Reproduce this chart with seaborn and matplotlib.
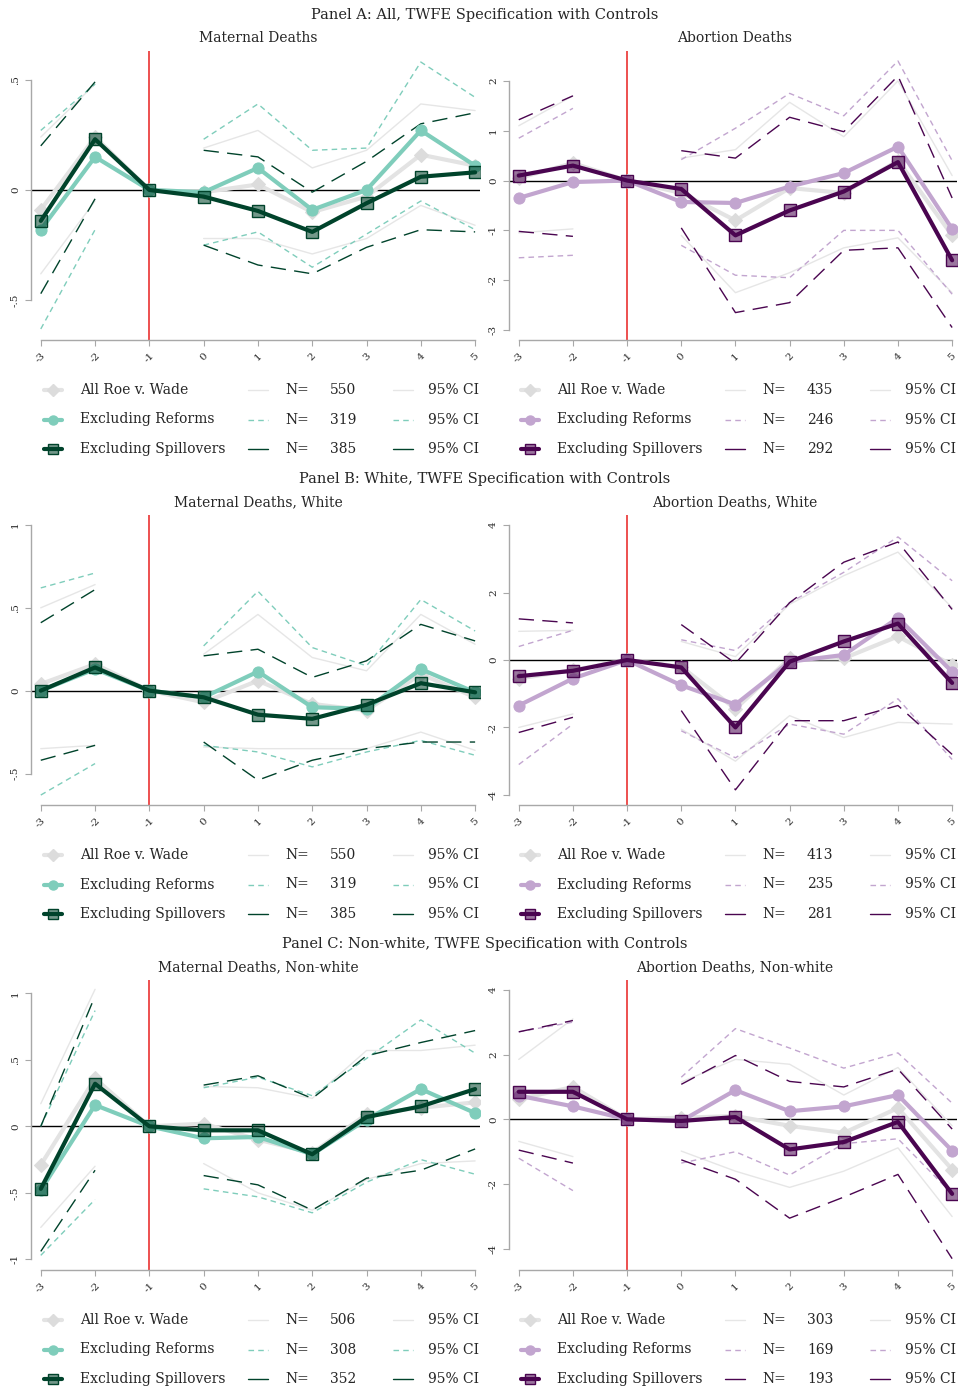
import numpy as np
import pandas as pd
import seaborn as sns
import matplotlib
matplotlib.use("Agg")
from matplotlib import pyplot as plt

sns.set_style("white")
plt.rcParams['font.family'] = ['DejaVu Serif']

# event time
years = [-3, -2, -1, 0, 1, 2, 3, 4, 5]
nan = np.nan

# ---- Panel A, maternal deaths ----
a_mat_all = [-0.09, 0.24, 0, -0.01, 0.025, -0.10, -0.03, 0.16, 0.11]
a_mat_all_hi = [0.24, 0.48, nan, 0.19, 0.27, 0.10, 0.18, 0.39, 0.36]
a_mat_all_lo = [-0.38, -0.05, nan, -0.22, -0.22, -0.29, -0.22, -0.07, -0.16]
a_mat_ref = [-0.18, 0.15, 0, -0.01, 0.10, -0.09, 0.0, 0.27, 0.11]
a_mat_ref_hi = [0.27, 0.48, nan, 0.23, 0.39, 0.18, 0.19, 0.58, 0.42]
a_mat_ref_lo = [-0.63, -0.18, nan, -0.25, -0.19, -0.35, -0.20, -0.05, -0.18]
a_mat_spl = [-0.14, 0.23, 0, -0.03, -0.095, -0.19, -0.06, 0.06, 0.08]
a_mat_spl_hi = [0.20, 0.49, nan, 0.18, 0.15, -0.01, 0.13, 0.30, 0.35]
a_mat_spl_lo = [-0.47, -0.04, nan, -0.25, -0.34, -0.38, -0.26, -0.18, -0.19]

# ---- Panel A, abortion deaths ----
a_abo_all = [0.05, 0.35, 0, -0.25, -0.8, -0.15, -0.25, 0.4, -1.1]
a_abo_all_hi = [1.1, 1.7, nan, 0.45, 0.62, 1.57, 0.88, 2.0, 0.1]
a_abo_all_lo = [-1.05, -0.97, nan, -1.1, -2.25, -1.85, -1.35, -1.15, -2.25]
a_abo_ref = [-0.35, -0.03, 0, -0.43, -0.45, -0.12, 0.15, 0.68, -0.97]
a_abo_ref_hi = [0.85, 1.45, nan, 0.42, 1.05, 1.75, 1.3, 2.4, 0.4]
a_abo_ref_lo = [-1.55, -1.5, nan, -1.3, -1.9, -1.95, -1.0, -1.0, -2.28]
a_abo_spl = [0.1, 0.3, 0, -0.17, -1.1, -0.6, -0.22, 0.37, -1.6]
a_abo_spl_hi = [1.22, 1.7, nan, 0.6, 0.45, 1.27, 0.98, 2.1, -0.35]
a_abo_spl_lo = [-1.02, -1.12, nan, -0.95, -2.65, -2.45, -1.4, -1.35, -2.95]

# ---- Panel B, maternal deaths, white ----
b_mat_all = [0.04, 0.16, 0, -0.07, 0.06, -0.08, -0.12, 0.10, -0.04]
b_mat_all_hi = [0.50, 0.64, nan, 0.22, 0.46, 0.20, 0.12, 0.46, 0.28]
b_mat_all_lo = [-0.35, -0.33, nan, -0.34, -0.35, -0.35, -0.35, -0.25, -0.36]
b_mat_ref = [0.0, 0.13, 0, -0.04, 0.115, -0.10, -0.11, 0.13, -0.01]
b_mat_ref_hi = [0.62, 0.71, nan, 0.27, 0.60, 0.26, 0.15, 0.55, 0.36]
b_mat_ref_lo = [-0.63, -0.44, nan, -0.33, -0.37, -0.46, -0.37, -0.30, -0.39]
b_mat_spl = [0.0, 0.14, 0, -0.04, -0.145, -0.17, -0.085, 0.045, -0.01]
b_mat_spl_hi = [0.41, 0.61, nan, 0.21, 0.25, 0.08, 0.18, 0.40, 0.30]
b_mat_spl_lo = [-0.42, -0.33, nan, -0.31, -0.54, -0.42, -0.35, -0.31, -0.31]

# ---- Panel B, abortion deaths, white ----
b_abo_all = [-0.55, -0.3, 0, -0.2, -1.45, 0.05, 0.05, 0.7, -0.15]
b_abo_all_hi = [0.85, 0.88, nan, 0.55, 0.1, 1.65, 2.5, 3.2, 1.55]
b_abo_all_lo = [-2.0, -1.6, nan, -2.05, -3.0, -1.65, -2.3, -1.85, -1.9]
b_abo_ref = [-1.35, -0.55, 0, -0.75, -1.32, -0.05, 0.15, 1.25, -0.35]
b_abo_ref_hi = [0.4, 0.88, nan, 0.6, 0.28, 1.7, 2.6, 3.65, 2.35]
b_abo_ref_lo = [-3.1, -1.9, nan, -2.1, -2.9, -1.9, -2.2, -1.15, -2.95]
b_abo_spl = [-0.48, -0.32, 0, -0.22, -2.0, -0.05, 0.55, 1.08, -0.68]
b_abo_spl_hi = [1.22, 1.1, nan, 1.05, -0.1, 1.7, 2.9, 3.5, 1.5]
b_abo_spl_lo = [-2.15, -1.7, nan, -1.5, -3.85, -1.8, -1.8, -1.35, -2.8]

# ---- Panel C, maternal deaths, non-white ----
c_mat_all = [-0.29, 0.36, 0, 0.02, -0.10, -0.20, 0.09, 0.14, 0.18]
c_mat_all_hi = [0.17, 1.03, nan, 0.30, 0.29, 0.21, 0.57, 0.57, 0.61]
c_mat_all_lo = [-0.76, -0.30, nan, -0.28, -0.50, -0.63, -0.40, -0.28, -0.26]
c_mat_ref = [-0.48, 0.16, 0, -0.09, -0.08, -0.21, 0.05, 0.28, 0.10]
c_mat_ref_hi = [0.0, 0.87, nan, 0.29, 0.37, 0.23, 0.51, 0.80, 0.55]
c_mat_ref_lo = [-0.97, -0.55, nan, -0.47, -0.53, -0.65, -0.42, -0.25, -0.36]
c_mat_spl = [-0.47, 0.32, 0, -0.03, -0.03, -0.21, 0.07, 0.15, 0.28]
c_mat_spl_hi = [0.0, 0.98, nan, 0.31, 0.38, 0.21, 0.53, 0.63, 0.72]
c_mat_spl_lo = [-0.94, -0.33, nan, -0.37, -0.44, -0.63, -0.39, -0.33, -0.17]

# ---- Panel C, abortion deaths, non-white ----
c_abo_all = [0.62, 1.0, 0, 0.05, 0.1, -0.2, -0.42, 0.35, -1.55]
c_abo_all_hi = [1.85, 3.1, nan, 1.15, 1.85, 1.7, 0.75, 1.6, -0.2]
c_abo_all_lo = [-0.68, -1.15, nan, -0.98, -1.6, -2.1, -1.6, -0.88, -3.0]
c_abo_ref = [0.73, 0.4, 0, -0.05, 0.9, 0.25, 0.4, 0.75, -0.97]
c_abo_ref_hi = [2.7, 3.0, nan, 1.3, 2.8, 2.2, 1.58, 2.05, 0.5]
c_abo_ref_lo = [-1.2, -2.2, nan, -1.35, -1.0, -1.72, -0.75, -0.6, -2.3]
c_abo_spl = [0.85, 0.85, 0, -0.05, 0.07, -0.93, -0.7, -0.08, -2.3]
c_abo_spl_hi = [2.7, 3.05, nan, 1.08, 1.97, 1.17, 1.0, 1.55, -0.3]
c_abo_spl_lo = [-0.95, -1.35, nan, -1.25, -1.85, -3.05, -2.4, -1.7, -4.3]

series_labels = ["All Roe v. Wade", "Excluding Reforms", "Excluding Spillovers"]
n_obs = {"A_mat": [550, 319, 385], "A_abo": [435, 246, 292],
         "B_mat": [550, 319, 385], "B_abo": [413, 235, 281],
         "C_mat": [506, 308, 352], "C_abo": [303, 169, 193]}

GRAY = "#d9d9d9"
CIGRAY = "#e6e6e6"
green = ["#7fcdbb", "#00432b"]
purple = ["#c2a5cf", "#4a0550"]
SHORT = (0, (4, 3))
LONG = (0, (11, 6))

W, H = 961, 1390
fig = plt.figure(figsize=(W / 100, H / 100), dpi=100)


def px_axes(x0, y0, x1, y1):
    return fig.add_axes([x0 / W, 1 - y1 / H, (x1 - x0) / W, (y1 - y0) / H])


def draw(ax, data, cols, ylim, yticks, ylabels):
    all_, ref, spl = data
    styles = [(CIGRAY, "-"), (cols[0], SHORT), (cols[1], LONG)]
    for (est, hi, lo), (c, ls) in zip([all_, ref, spl], styles):
        for ci in (hi, lo):
            for idx in ([0, 1], [3, 4, 5, 6, 7, 8]):
                sns.lineplot(x=[years[i] for i in idx], y=[ci[i] for i in idx],
                             ax=ax, color=c, linestyle=ls, lw=1.0, legend=False)
    ax.axhline(0, color="black", lw=1.0, zorder=1)
    ax.axvline(-1, color="#e8201f", lw=1.1, zorder=1)
    sns.lineplot(x=years, y=all_[0], ax=ax, color="#e3e3e3", lw=3, marker="D",
                 markersize=7, markerfacecolor="#dcdcdc", markeredgecolor="#dcdcdc",
                 zorder=3, legend=False)
    sns.lineplot(x=years, y=ref[0], ax=ax, color=cols[0], lw=3, marker="o",
                 markersize=8, markeredgecolor=cols[0], zorder=4, legend=False)
    sns.lineplot(x=years, y=spl[0], ax=ax, color=cols[1], lw=3, marker="s",
                 markersize=8, markerfacecolor=matplotlib.colors.to_rgba(cols[1], 0.55),
                 markeredgecolor=cols[1], markeredgewidth=1, zorder=5, legend=False)
    ax.set_xlim(-3.18, 5.09)
    ax.set_ylim(*ylim)
    ax.set_xticks(years)
    ax.set_xticklabels([str(y) for y in years], rotation=45, fontsize=7.5)
    ax.set_yticks(yticks)
    ax.set_yticklabels(ylabels, rotation=90, fontsize=7.5, va="center")
    for s in ["top", "right"]:
        ax.spines[s].set_visible(False)
    ax.spines["left"].set_bounds(min(yticks), max(yticks))
    ax.spines["bottom"].set_bounds(-3, 5)
    for s in ["left", "bottom"]:
        ax.spines[s].set_color("#a8a8a8")
        ax.spines[s].set_linewidth(1.0)
    ax.tick_params(axis="both", length=4, color="#a8a8a8", direction="out",
                   pad=4, bottom=True, left=True)
    ax.set_xlabel("")
    ax.set_ylabel("")
    ax.set_facecolor("white")


panels = [
    ("Panel A: All, TWFE Specification with Controls", 15, 51, 340,
     ("Maternal Deaths", [(a_mat_all, a_mat_all_hi, a_mat_all_lo), (a_mat_ref, a_mat_ref_hi, a_mat_ref_lo),
                          (a_mat_spl, a_mat_spl_hi, a_mat_spl_lo)], (-0.68, 0.63), [-0.5, 0, 0.5], ["-.5", "0", ".5"], "A_mat"),
     ("Abortion Deaths", [(a_abo_all, a_abo_all_hi, a_abo_all_lo), (a_abo_ref, a_abo_ref_hi, a_abo_ref_lo),
                          (a_abo_spl, a_abo_spl_hi, a_abo_spl_lo)], (-3.2, 2.6), [-3, -2, -1, 0, 1, 2], ["-3", "-2", "-1", "0", "1", "2"], "A_abo")),
    ("Panel B: White, TWFE Specification with Controls", 479, 515, 805,
     ("Maternal Deaths, White", [(b_mat_all, b_mat_all_hi, b_mat_all_lo), (b_mat_ref, b_mat_ref_hi, b_mat_ref_lo),
                                 (b_mat_spl, b_mat_spl_hi, b_mat_spl_lo)], (-0.69, 1.06), [-0.5, 0, 0.5, 1], ["-.5", "0", ".5", "1"], "B_mat"),
     ("Abortion Deaths, White", [(b_abo_all, b_abo_all_hi, b_abo_all_lo), (b_abo_ref, b_abo_ref_hi, b_abo_ref_lo),
                                 (b_abo_spl, b_abo_spl_hi, b_abo_spl_lo)], (-4.3, 4.3), [-4, -2, 0, 2, 4], ["-4", "-2", "0", "2", "4"], "B_abo")),
    ("Panel C: Non-white, TWFE Specification with Controls", 944, 980, 1270,
     ("Maternal Deaths, Non-white", [(c_mat_all, c_mat_all_hi, c_mat_all_lo), (c_mat_ref, c_mat_ref_hi, c_mat_ref_lo),
                                     (c_mat_spl, c_mat_spl_hi, c_mat_spl_lo)], (-1.08, 1.1), [-1, -0.5, 0, 0.5, 1], ["-1", "-.5", "0", ".5", "1"], "C_mat"),
     ("Abortion Deaths, Non-white", [(c_abo_all, c_abo_all_hi, c_abo_all_lo), (c_abo_ref, c_abo_ref_hi, c_abo_ref_lo),
                                     (c_abo_spl, c_abo_spl_hi, c_abo_spl_lo)], (-4.65, 4.3), [-4, -2, 0, 2, 4], ["-4", "-2", "0", "2", "4"], "C_abo")),
]

# overlay in pixel coordinates for titles and legends
ov = fig.add_axes([0, 0, 1, 1], zorder=10)
ov.set_xlim(0, W)
ov.set_ylim(H, 0)
ov.axis("off")

for title, ty, top, bot, left_spec, right_spec in panels:
    ov.text(485, ty, title, ha="center", va="center", fontsize=10.5)
    for (sub, data, ylim, yt, yl, key), (x0, x1, cols, off, sx) in zip(
            [left_spec, right_spec], [(31, 480, green, 0, 258), (509, 957, purple, 477, 735)]):
        ax = px_axes(x0, top, x1, bot)
        draw(ax, data, cols, ylim, yt, yl)
        ov.text(sx, ty + 23, sub, ha="center", va="center", fontsize=10)
        # legend rows
        ly0 = bot + 50
        markers = [("D", "#dcdcdc", "#dcdcdc"), ("o", cols[0], cols[0]),
                   ("s", matplotlib.colors.to_rgba(cols[1], 0.55), cols[1])]
        line_c = [CIGRAY, cols[0], cols[1]]
        dashes = ["-", SHORT, "-"]
        for i in range(3):
            yy = ly0 + i * 29.5
            ov.plot([44 + off, 62 + off], [yy, yy], color=["#e3e3e3", cols[0], cols[1]][i], lw=3)
            ov.plot([53 + off], [yy], marker=markers[i][0], ms=6.5, mfc=markers[i][1],
                    mec=markers[i][2], ls="none")
            ov.text(80 + off, yy, series_labels[i], va="center", fontsize=10)
            for lx in (248, 393):
                ov.plot([lx + off, lx + 20 + off], [yy, yy], color=line_c[i], lw=1,
                        linestyle=dashes[i])
            ov.text(285 + off, yy, "N=", va="center", fontsize=10)
            ov.text(330 + off, yy, str(n_obs[key][i]), va="center", fontsize=10)
            ov.text(428 + off, yy, "95% CI", va="center", fontsize=10)

fig.savefig("out.png", dpi=100, facecolor="white")
